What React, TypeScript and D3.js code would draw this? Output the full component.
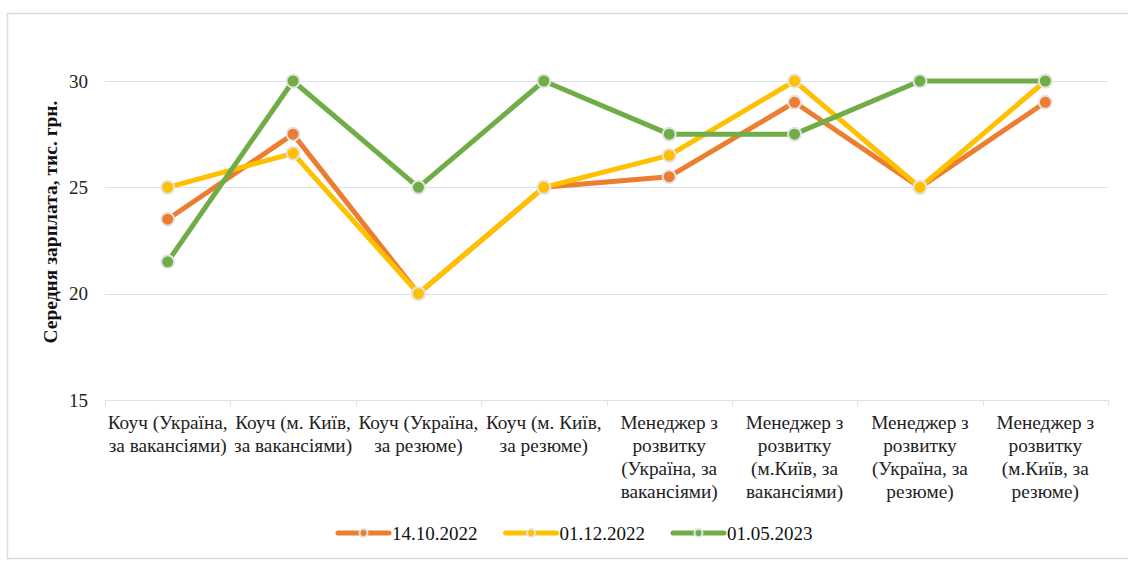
import * as d3 from 'd3';

const categories = [
  'Коуч (Україна,\nза вакансіями)',
  'Коуч (м. Київ,\nза вакансіями)',
  'Коуч (Україна,\nза резюме)',
  'Коуч (м. Київ,\nза резюме)',
  'Менеджер з\nрозвитку\n(Україна,  за\nвакансіями)',
  'Менеджер з\nрозвитку\n(м.Київ, за\nвакансіями)',
  'Менеджер з\nрозвитку\n(Україна,  за\nрезюме)',
  'Менеджер з\nрозвитку\n(м.Київ, за\nрезюме)',
];

const seriesNames = ['14.10.2022', '01.12.2022', '01.05.2023'];
const oct2022 = [23.5, 27.5, 20, 25, 25.5, 29, 25, 29];
const dec2022 = [25, 26.6, 20, 25, 26.5, 30, 25, 30];
const may2023 = [21.5, 30, 25, 30, 27.5, 27.5, 30, 30];
const yTicks = [15, 20, 25, 30];
const colors = ['#ED7D31', '#FFC000', '#70AD47'];

const width = 1128;
const height = 561;
const font = "'Liberation Serif'";
const fs = 19;

function App() {
  const x = d3.scaleBand().domain(categories).range([105, 1108]);
  const y = d3.scaleLinear().domain([15, 30]).range([400, 81]);
  const cx = (i: number) => x(categories[i])! + x.bandwidth() / 2;
  const line = d3
    .line<number>()
    .x((d, i) => cx(i))
    .y((d) => y(d));
  const series = [oct2022, dec2022, may2023];
  const tickXs = categories.map((c) => x(c)!).concat([x.range()[1]]);
  const legendX = d3.scalePoint().domain(seriesNames).range([338, 673]);

  return (
    <svg
      width={width}
      height={height}
      style={{ position: 'absolute', left: 0, top: 0, background: 'white' }}
    >
      <rect x={7.5} y={13.5} width={1140} height={545} fill="white" stroke="#d9dce3" strokeWidth={1.5} />

      {yTicks.map((t) => (
        <line
          key={t}
          x1={105}
          x2={1108}
          y1={Math.round(y(t)) + 0.5}
          y2={Math.round(y(t)) + 0.5}
          stroke="#dde1ea"
        />
      ))}
      {yTicks.map((t) => (
        <text key={t} x={88} y={y(t)} dy="0.35em" textAnchor="end" fontFamily={font} fontSize={fs} fill="#222">
          {t}
        </text>
      ))}
      {tickXs.map((tx, i) => (
        <line key={i} x1={Math.round(tx) + 0.5} x2={Math.round(tx) + 0.5} y1={400} y2={406} stroke="#dde1ea" />
      ))}
      {categories.map((c) => (
        <text key={c} textAnchor="middle" fontFamily={font} fontSize={19.3} fill="#222">
          {c.split('\n').map((ln, i) => (
            <tspan key={i} x={x(c)! + x.bandwidth() / 2} y={428.5 + i * 23.3}>
              {ln}
            </tspan>
          ))}
        </text>
      ))}

      <text
        transform="translate(50,222) rotate(-90)"
        textAnchor="middle"
        dy="0.35em"
        fontFamily={font}
        fontSize={19.5}
        fontWeight="bold"
        fill="#111"
      >
        Середня зарплата, тис. грн.
      </text>

      {series.map((vals, si) => (
        <path key={si} d={line(vals)!} fill="none" stroke={colors[si]} strokeWidth={5} strokeLinejoin="round" />
      ))}
      {series.map((vals, si) => (
        <g key={si}>
          {vals.map((v, i) => (
            <circle key={i} cx={cx(i)} cy={y(v)} r={6.5} fill={colors[si]} stroke="#e4e4e4" strokeWidth={2} />
          ))}
        </g>
      ))}

      {seriesNames.map((name, i) => (
        <g key={name} transform={`translate(${legendX(name)},533)`}>
          <line x1={0} x2={51} stroke={colors[i]} strokeWidth={5} strokeLinecap="round" />
          <circle cx={25.5} r={4} fill={colors[i]} stroke="#e4e4e4" strokeWidth={2} />
          <text x={54} dy="0.35em" fontFamily={font} fontSize={fs} fill="#111">
            {name}
          </text>
        </g>
      ))}
    </svg>
  );
}

export default App;
